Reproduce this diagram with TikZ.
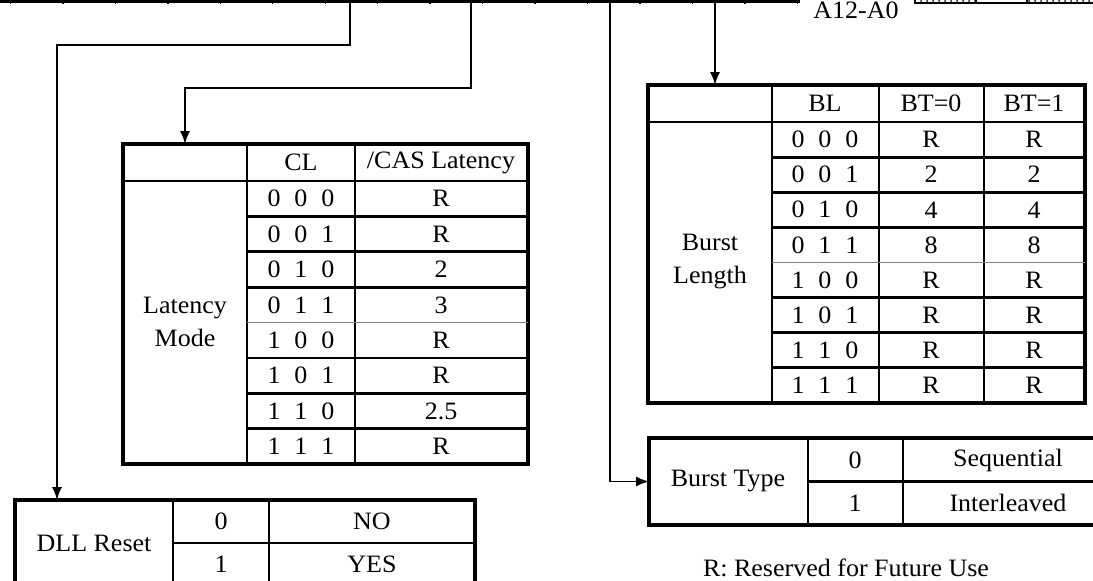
\documentclass[tikz,border=0pt]{standalone}
\usepackage{fontspec}
\setmainfont{Liberation Serif}[FakeStretch=1.04]
\usetikzlibrary{arrows.meta, positioning, calc, patterns}

\newcommand{\bitcode}[3]{#1\hspace{7pt}#2\hspace{7pt}#3}

\begin{document}
\begin{tikzpicture}[
    x=0.5pt, y=-0.5pt,
    every node/.style={font=\fontsize{12.5}{16.5}\selectfont, inner sep=0pt},
    tablebox/.style={draw, line width=1.7pt, outer sep=0pt, anchor=north west},
    thickrule/.style={line width=1.4pt},
    thinrule/.style={line width=0.9pt},
    greyrule/.style={line width=0.6pt, black!50},
    wire/.style={line width=0.8pt},
    arrow/.style={wire, -{Latex[length=6.5pt, width=5pt]}},
    label/.style={align=center}
]
    \useasboundingbox (0,0) rectangle (1093,580);

    % Mode register bar
    \draw[line width=1.8pt] (-5,1) -- (800,1);
    \foreach \k in {0,...,15}
        \draw[line width=0.7pt] ({10.5+52.45*\k},1) -- ++(0,3);
    \node[anchor=base] (addr) at (856,18) {A12-A0};
    \fill[pattern=crosshatch dots] (915,-12) rectangle (976,3);
    \fill[pattern=crosshatch dots] (1027,-12) rectangle (1100,3);
    \draw[line width=1pt] (915,-12) rectangle (1100,3);
    \draw[line width=1pt] (976,-12) -- (976,3) (1027,-12) -- (1027,3);
    \draw[line width=0.6pt] (1003,-12) -- (1003,0);

    \coordinate (bitDLL) at (350,2);
    \coordinate (bitCL) at (471,2);
    \coordinate (bitBT) at (610,2);
    \coordinate (bitBL) at (715,2);

    % CAS latency table
    \node[tablebox, minimum width=202.5pt, minimum height=160pt] (lat) at (123,144) {};
    \draw[thinrule] (247,144) -- (247,464);
    \draw[thickrule] (355,144) -- (355,464);
    \draw[thickrule] (123,181) -- (528,181);
    \foreach \r in {1,2,3,5,6,7}
        \draw[thickrule] (247,{181+35.4*\r}) -- (528,{181+35.4*\r});
    \draw[greyrule] (247,322.6) -- (528,322.6);
    \node (clhead) at (301,162.5) {CL};
    \node (cashead) at (441,162.5) {/CAS Latency};
    \node[label] (latmode) at (185,322) {Latency\\Mode};
    \foreach \a/\b/\c/\v [count=\r from 0] in {0/0/0/R, 0/0/1/R, 0/1/0/2, 0/1/1/3, 1/0/0/R, 1/0/1/R, 1/1/0/2.5, 1/1/1/R} {
        \node (cl\r) at (301,{198.7+35.4*\r}) {\bitcode{\a}{\b}{\c}};
        \node (cas\r) at (441,{198.7+35.4*\r}) {\v};
    }

    % Burst length table
    \node[tablebox, minimum width=218.5pt, minimum height=159pt] (bl) at (648,85) {};
    \draw[thinrule] (772,85) -- (772,403);
    \draw[thickrule] (879,85) -- (879,403);
    \draw[thickrule] (984,85) -- (984,403);
    \draw[thickrule] (648,122) -- (1085,122);
    \foreach \r in {1,2,3,5,6,7}
        \draw[thickrule] (772,{122+35.1*\r}) -- (1085,{122+35.1*\r});
    \draw[greyrule] (772,262.4) -- (1085,262.4);
    \node (blhead) at (825,103.5) {BL};
    \node (bt0head) at (931,103.5) {BT=0};
    \node (bt1head) at (1034,103.5) {BT=1};
    \node[label] (burstlen) at (710,262) {Burst\\Length};
    \foreach \a/\b/\c/\u/\v [count=\r from 0] in {0/0/0/R/R, 0/0/1/2/2, 0/1/0/4/4, 0/1/1/8/8, 1/0/0/R/R, 1/0/1/R/R, 1/1/0/R/R, 1/1/1/R/R} {
        \node (bl\r) at (825,{139.6+35.1*\r}) {\bitcode{\a}{\b}{\c}};
        \node (bta\r) at (931,{139.6+35.1*\r}) {\u};
        \node (btb\r) at (1034,{139.6+35.1*\r}) {\v};
    }

    % DLL reset table
    \node[tablebox, minimum width=230pt, minimum height=43pt] (dll) at (15,500) {};
    \draw[thinrule] (173,500) -- (173,586);
    \draw[thickrule] (269,500) -- (269,586);
    \draw[thickrule] (173,543) -- (475,543);
    \node (dllname) at (94,543) {DLL Reset};
    \node (dll0) at (221,521.5) {0};
    \node (dll1) at (221,564.5) {1};
    \node (dllno) at (372,521.5) {NO};
    \node (dllyes) at (372,564.5) {YES};

    % Burst type table
    \node[tablebox, minimum width=232pt, minimum height=43.5pt] (bt) at (649,438) {};
    \draw[thinrule] (808,438) -- (808,525);
    \draw[thickrule] (903,438) -- (903,525);
    \draw[thickrule] (808,481.5) -- (1113,481.5);
    \node (btname) at (728,481.5) {Burst Type};
    \node (bt0) at (855,460) {0};
    \node (bt1) at (855,503) {1};
    \node (btseq) at (1008,460) {Sequential};
    \node (btint) at (1008,503) {Interleaved};

    % Connectors from the register bits
    \draw[arrow] (bitDLL) -- ++(0,43) -| ($(dll.north west)+(42,0)$);
    \draw[arrow] (bitCL) -- ++(0,86) -| ($(lat.north west)+(62,0)$);
    \draw[arrow] (bitBT) |- (bt.west);
    \draw[arrow] (bitBL) -- (bitBL |- bl.north);

    \node[anchor=base] (note) at (846,576) {R: Reserved for Future Use};

\end{tikzpicture}
\end{document}
